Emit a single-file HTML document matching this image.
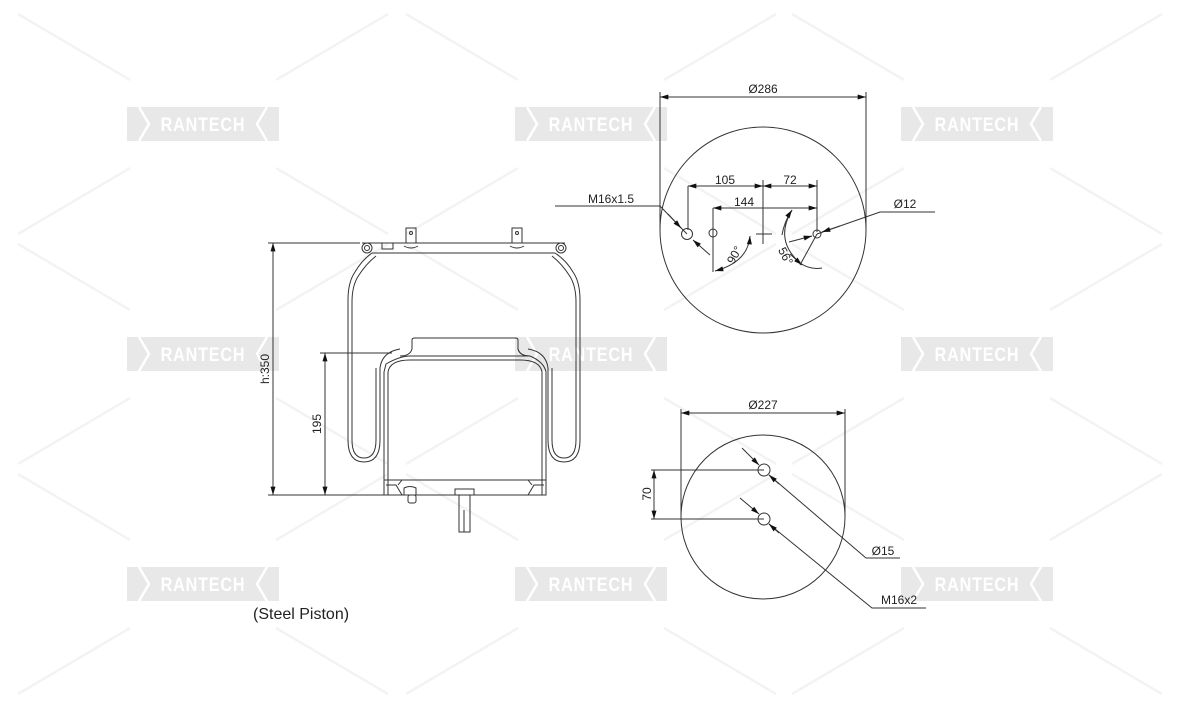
<!DOCTYPE html>
<html><head><meta charset="utf-8"><style>
html,body{margin:0;padding:0;background:#fff;width:1181px;height:709px;overflow:hidden}
svg{display:block}
text{font-family:"Liberation Sans",sans-serif;fill:#222}
</style></head><body>
<svg width="1181" height="709" viewBox="0 0 1181 709" xmlns="http://www.w3.org/2000/svg">
<defs>
<marker id="a" viewBox="0 0 10 6" refX="10" refY="3" markerWidth="9" markerHeight="5" orient="auto-start-reverse" markerUnits="userSpaceOnUse"><path d="M0,0 L10,3 L0,6 z" fill="#111"/></marker>
<g id="wm">
<rect x="-76" y="-17" width="152" height="34" fill="#e8e8e8"/>
<path d="M-64,-17 L-54,0 L-64,17" fill="none" stroke="#fff" stroke-width="2.5"/>
<path d="M64,-17 L54,0 L64,17" fill="none" stroke="#fff" stroke-width="2.5"/>
<text transform="scale(0.85,1)" x="0" y="7" text-anchor="middle" font-size="19" font-weight="bold" style="fill:#fff;letter-spacing:1px">RANTECH</text>
</g>
<g id="xl" stroke="#f3f3f3" stroke-width="2.5">
<line x1="-185" y1="-110" x2="-73" y2="-44"/><line x1="185" y1="-110" x2="73" y2="-44"/>
<line x1="-185" y1="110" x2="-73" y2="44"/><line x1="185" y1="110" x2="73" y2="44"/>
</g>
</defs>
<use href="#xl" x="203" y="124"/><use href="#xl" x="591" y="124"/><use href="#xl" x="977" y="124"/>
<use href="#xl" x="203" y="354"/><use href="#xl" x="591" y="354"/><use href="#xl" x="977" y="354"/>
<use href="#xl" x="203" y="584"/><use href="#xl" x="591" y="584"/><use href="#xl" x="977" y="584"/>
<use href="#wm" x="203" y="124"/><use href="#wm" x="591" y="124"/><use href="#wm" x="977" y="124"/>
<use href="#wm" x="203" y="354"/><use href="#wm" x="591" y="354"/><use href="#wm" x="977" y="354"/>
<use href="#wm" x="203" y="584"/><use href="#wm" x="591" y="584"/><use href="#wm" x="977" y="584"/>

<g fill="none" stroke="#333" stroke-width="1">
<line x1="268" y1="243" x2="360" y2="243"/>
<line x1="268" y1="495" x2="385" y2="495"/>
<line x1="273" y1="243" x2="273" y2="495" marker-start="url(#a)" marker-end="url(#a)"/>
<line x1="320" y1="353" x2="392" y2="353"/>
<line x1="325" y1="353" x2="325" y2="495" marker-start="url(#a)" marker-end="url(#a)"/>
<path d="M362,243 L565,243 M372,253 L555,253"/>
<circle cx="367" cy="248" r="5"/><circle cx="367" cy="248" r="2.5"/>
<circle cx="561" cy="248" r="5"/><circle cx="561" cy="248" r="2.5"/>
<rect x="382" y="243" width="11" height="6"/>
<path d="M406,243 L406,228 L416,228 L416,243 M512,243 L512,228 L522,228 L522,243"/>
<circle cx="411" cy="233" r="1.5"/><circle cx="517" cy="233" r="1.5"/>
<path d="M404,246 Q411,250 418,246 M510,246 Q517,250 524,246"/>
<path d="M372,253 Q362,260 355,272 Q348,282 348,300 L348,440 Q348,462 364,462 Q380,462 380,440 L380,368 Q382,352 400,349"/>
<path d="M376,256 Q366,264 359,275 Q352,285 352,302 L352,440 Q352,458 364,458 Q376,458 376,440 L376,368"/>
<path d="M555,253 Q566,260 573,272 Q580,282 580,300 L580,440 Q580,462 564,462 Q548,462 548,440 L548,368 Q546,352 528,349"/>
<path d="M552,256 Q562,264 569,275 Q576,285 576,302 L576,440 Q576,458 564,458 Q552,458 552,440 L552,368"/>
<path d="M412,349 L412,340 Q412,338 415,338 L515,338 Q518,338 518,340 L518,349 Q520,356 530,356 L410,356 Q400,356 386,364 L384,372 L384,495 L546,495 L546,372 Q544,362 530,356"/>
<path d="M412,349 Q410,356 400,356 M518,349 Q520,356 530,356"/>
<path d="M388,372 L388,495 M542,372 L542,495 M388,372 Q390,360 410,360 L520,360 Q540,360 542,372"/>
<path d="M384,480 L546,480"/>
<path d="M386,485 L396,485 L402,495 M544,485 L534,485 L528,495"/>
<path d="M402,480 L398,485 M528,480 L532,485"/>
<path d="M404,495 L404,488 Q410,485 416,488 L416,495"/>
<rect x="408" y="495" width="8" height="8" rx="2"/>
<path d="M455,495 L455,489 L474,489 L474,495"/>
<rect x="459" y="495" width="11" height="37"/>
<line x1="464" y1="510" x2="464" y2="532"/>

<circle cx="763" cy="230" r="103"/>
<line x1="660" y1="92" x2="660" y2="230"/>
<line x1="866" y1="92" x2="866" y2="230"/>
<line x1="660" y1="97" x2="866" y2="97" marker-start="url(#a)" marker-end="url(#a)"/>
<line x1="688" y1="186" x2="688" y2="230"/>
<line x1="763" y1="180" x2="763" y2="244"/>
<line x1="817" y1="180" x2="817" y2="232"/>
<line x1="713" y1="208" x2="713" y2="272"/>
<line x1="688" y1="186" x2="763" y2="186" marker-start="url(#a)" marker-end="url(#a)"/>
<line x1="763" y1="186" x2="817" y2="186" marker-start="url(#a)" marker-end="url(#a)"/>
<line x1="713" y1="208" x2="817" y2="208" marker-start="url(#a)" marker-end="url(#a)"/>
<line x1="756" y1="234" x2="772" y2="234"/>
<circle cx="687" cy="234" r="5.5"/>
<circle cx="713" cy="233" r="4"/>
<circle cx="817" cy="234" r="4"/>
<path d="M750,236 Q748,262 715,271" marker-start="url(#a)" marker-end="url(#a)"/>
<path d="M792,210 Q774,240 800,263 Q810,270 822,268" />
<path d="M792,210 Q784,222 782,235" marker-start="url(#a)"/>
<line x1="802" y1="265" x2="790" y2="254" marker-start="url(#a)"/>
<line x1="817" y1="234" x2="800" y2="265"/>
<path d="M555,206 L660,206 L687,234" />
<line x1="668" y1="214" x2="681" y2="228" marker-end="url(#a)"/>
<line x1="710" y1="255" x2="693" y2="240" marker-end="url(#a)"/>
<path d="M935,212 L880,212 L817,234"/>
<line x1="840" y1="226" x2="822" y2="232" marker-end="url(#a)"/>
<line x1="789" y1="242" x2="812" y2="236" marker-end="url(#a)"/>

<circle cx="763" cy="517" r="82"/>
<line x1="681" y1="409" x2="681" y2="517"/>
<line x1="845" y1="409" x2="845" y2="517"/>
<line x1="681" y1="413" x2="845" y2="413" marker-start="url(#a)" marker-end="url(#a)"/>
<circle cx="764" cy="470" r="6"/>
<circle cx="764" cy="519" r="6"/>
<line x1="651" y1="470" x2="764" y2="470"/>
<line x1="651" y1="519" x2="764" y2="519"/>
<line x1="654" y1="470" x2="654" y2="519" marker-start="url(#a)" marker-end="url(#a)"/>
<line x1="742" y1="448" x2="759" y2="465" marker-end="url(#a)"/>
<path d="M769,475 L866,558 L900,558"/>
<line x1="779" y1="484" x2="769" y2="475" marker-end="url(#a)"/>
<line x1="740" y1="498" x2="759" y2="514" marker-end="url(#a)"/>
<path d="M769,524 L872,608 L926,608"/>
<line x1="779" y1="533" x2="769" y2="524" marker-end="url(#a)"/>
</g>

<g font-size="12">
<text x="763" y="93" text-anchor="middle">Ø286</text>
<text x="725" y="184" text-anchor="middle">105</text>
<text x="790" y="184" text-anchor="middle">72</text>
<text x="744" y="206" text-anchor="middle">144</text>
<text x="611" y="203" text-anchor="middle">M16x1.5</text>
<text x="905" y="208" text-anchor="middle">Ø12</text>
<text transform="translate(738,257) rotate(-60)" text-anchor="middle">90°</text>
<text transform="translate(782,258) rotate(62)" text-anchor="middle">56°</text>
<text x="763" y="409" text-anchor="middle">Ø227</text>
<text transform="translate(651,494) rotate(-90)" text-anchor="middle">70</text>
<text x="883" y="555" text-anchor="middle">Ø15</text>
<text x="899" y="604" text-anchor="middle">M16x2</text>
<text transform="translate(269,369) rotate(-90)" text-anchor="middle">h:350</text>
<text transform="translate(321,424) rotate(-90)" text-anchor="middle">195</text>
</g>
<text x="253" y="619" font-size="16">(Steel Piston)</text>
</svg>
</body></html>
